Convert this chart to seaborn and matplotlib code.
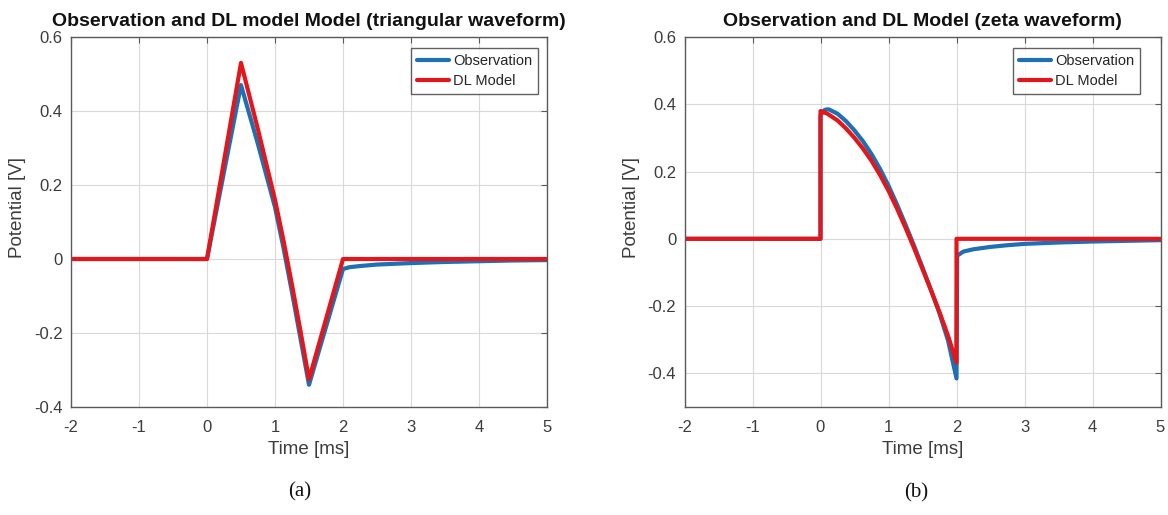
import numpy as np
import pandas as pd
import matplotlib
matplotlib.use("Agg")
import matplotlib.pyplot as plt
import seaborn as sns

# ---- triangular waveform (panel a) ----
tri_time_obs = [-2.0, 0.0, 0.5, 0.625, 0.75, 0.875, 1.0, 1.125, 1.25, 1.375, 1.5,
                2.0, 2.1, 2.25, 2.5, 3.0, 3.5, 4.0, 4.5, 5.0]
tri_obs      = [0.0, 0.0, 0.47, 0.39, 0.31, 0.225, 0.14, 0.03, -0.09, -0.215, -0.34,
                -0.027, -0.022, -0.019, -0.015, -0.011, -0.008, -0.006, -0.004, -0.003]
tri_time_dl  = [-2.0, 0.0, 0.5, 0.625, 0.75, 0.875, 1.0, 1.125, 1.25, 1.375, 1.5, 2.0, 5.0]
tri_dl       = [0.0, 0.0, 0.53, 0.44, 0.35, 0.255, 0.16, 0.05, -0.07, -0.195, -0.325, 0.0, 0.0]

# ---- zeta waveform (panel b) ----
zeta_time_obs = [-2.0, 0.0, 0.0, 0.03, 0.07, 0.12, 0.25, 0.375, 0.5, 0.625, 0.75, 0.875,
                 1.0, 1.125, 1.25, 1.375, 1.5, 1.625, 1.75, 1.875, 2.0,
                 2.01, 2.1, 2.25, 2.5, 2.75, 3.0, 3.5, 4.0, 4.5, 5.0]
zeta_obs      = [0.0, 0.0, 0.365, 0.378, 0.384, 0.385, 0.372, 0.35, 0.322, 0.29, 0.252, 0.208,
                 0.158, 0.102, 0.042, -0.02, -0.085, -0.152, -0.222, -0.302, -0.415,
                 -0.05, -0.038, -0.031, -0.024, -0.019, -0.015, -0.011, -0.008, -0.006, -0.004]
zeta_time_dl  = [-2.0, 0.0, 0.0, 0.1, 0.25, 0.375, 0.5, 0.625, 0.75, 0.875, 1.0, 1.125,
                 1.25, 1.375, 1.5, 1.625, 1.75, 1.875, 2.0, 2.0, 5.0]
zeta_dl       = [0.0, 0.0, 0.38, 0.372, 0.352, 0.328, 0.30, 0.268, 0.232, 0.19, 0.143, 0.09,
                 0.033, -0.027, -0.09, -0.153, -0.218, -0.288, -0.368, 0.0, 0.0]

series_names = ["Observation", "DL Model"]
panel_titles = ["Observation and DL model Model (triangular waveform)",
                "Observation and DL Model (zeta waveform)"]
panel_tags = ["(a)", "(b)"]
x_ticks = [-2, -1, 0, 1, 2, 3, 4, 5]
y_ticks_a = [-0.4, -0.2, 0, 0.2, 0.4, 0.6]
y_ticks_b = [-0.4, -0.2, 0, 0.2, 0.4, 0.6]
y_limits = [(-0.4, 0.6), (-0.5, 0.6)]

sns.set_theme(style="white")
plt.rcParams["font.family"] = ["Liberation Sans", "DejaVu Sans"]

palette = {"Observation": "#1f6fb4", "DL Model": "#e3161b"}
ink = "#3c3c3c"


def long_frame(t_obs, y_obs, t_dl, y_dl):
    a = pd.DataFrame({"t": t_obs, "v": y_obs, "series": series_names[0]})
    b = pd.DataFrame({"t": t_dl, "v": y_dl, "series": series_names[1]})
    return pd.concat([a, b], ignore_index=True)


frames = [long_frame(tri_time_obs, tri_obs, tri_time_dl, tri_dl),
          long_frame(zeta_time_obs, zeta_obs, zeta_time_dl, zeta_dl)]

fig = plt.figure(figsize=(11.68, 5.15), dpi=100)
W, H = 1168, 515
boxes = [(71, 37, 476, 370), (684.5, 37, 476, 370)]
tag_pos = [(300, 492), (916, 493)]
legend_corner = [(538, 48), (1140, 48)]
yticks_all = [y_ticks_a, y_ticks_b]

for i, (x0, y0, w, h) in enumerate(boxes):
    ax = fig.add_axes([x0 / W, 1 - (y0 + h) / H, w / W, h / H])
    sns.lineplot(data=frames[i], x="t", y="v", hue="series", hue_order=series_names,
                 palette=palette, estimator=None, sort=False, linewidth=3.0,
                 ax=ax)
    ax.set_xlim(-2, 5)
    ax.set_ylim(*y_limits[i])
    ax.set_xticks(x_ticks)
    ax.set_xticklabels([str(v) for v in x_ticks])
    ax.set_yticks(yticks_all[i])
    ax.set_yticklabels(["0" if v == 0 else f"{v:g}" for v in yticks_all[i]])
    ax.grid(True, color="#d9d9d9", linewidth=0.8)
    ax.set_axisbelow(True)
    for s in ax.spines.values():
        s.set_color("#5a5a5a")
        s.set_linewidth(1.0)
    ax.tick_params(direction="in", length=4, width=0.8, color="#5a5a5a",
                   top=True, right=True, labelsize=12, labelcolor=ink)
    ax.tick_params(axis="x", pad=9)
    ax.tick_params(axis="y", pad=6)
    ax.set_xlabel("Time [ms]", fontsize=13.5, color=ink, labelpad=5)
    ax.set_ylabel("Potential [V]", fontsize=13.5, color=ink)
    ax.yaxis.set_label_coords(-0.094, 0.54)
    ax.set_title(panel_titles[i], fontsize=14, fontweight="bold", color="#111111", pad=8)
    lx, ly = legend_corner[i]
    leg = ax.legend(title=None, loc="upper right",
                    bbox_to_anchor=((lx - x0) / w, (y0 + h - ly) / h),
                    fontsize=10.5, frameon=True, fancybox=False, edgecolor="#3a3a3a",
                    handlelength=2.2, handletextpad=0.3, borderpad=0.4,
                    labelspacing=0.45, borderaxespad=0.0)
    leg.get_frame().set_linewidth(1.0)
    for line in leg.get_lines():
        line.set_linewidth(3.0)
    fig.text(tag_pos[i][0] / W, 1 - tag_pos[i][1] / H, panel_tags[i],
             family=["Liberation Serif", "DejaVu Serif"], fontsize=15,
             ha="center", va="center", color="#111111")

fig.savefig("out.png", dpi=100, facecolor="white")
